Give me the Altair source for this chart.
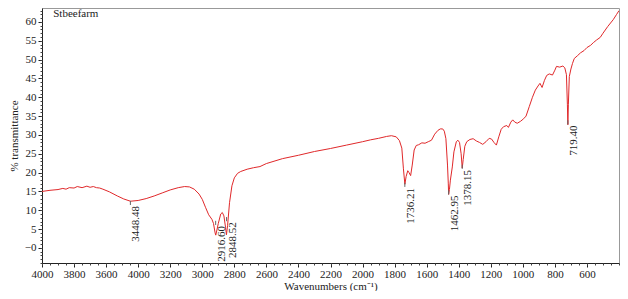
import altair as alt
import pandas as pd

wavenumber = [4000, 3950, 3900, 3870, 3850, 3830, 3800, 3780, 3750, 3720, 3700, 3680, 3660, 3640, 3620,
              3580, 3530, 3490, 3448, 3400, 3350, 3300, 3250, 3200, 3150, 3110, 3080, 3050,
              3020, 3000, 2980, 2960, 2940, 2930, 2920, 2916, 2910, 2900, 2885, 2875, 2865,
              2855, 2849, 2842, 2830, 2815, 2800, 2780, 2760, 2720, 2680, 2640, 2600, 2500,
              2400, 2300, 2200, 2100, 2000, 1950, 1900, 1850, 1820, 1790, 1770, 1755, 1745,
              1736, 1728, 1718, 1710, 1700, 1690, 1678, 1665, 1650, 1630, 1610, 1590, 1570,
              1550, 1530, 1515, 1500, 1490, 1480, 1470, 1465, 1463, 1458, 1452, 1440, 1430,
              1415, 1405, 1395, 1385, 1378, 1372, 1362, 1350, 1330, 1310, 1290, 1270, 1250,
              1230, 1210, 1195, 1180, 1165, 1150, 1135, 1120, 1100, 1090, 1075, 1063, 1050,
              1035, 1015, 995, 980, 960, 940, 922, 905, 893, 880, 865, 851, 835, 815, 800,
              790, 770, 750, 738, 728, 722, 719, 716, 710, 700, 690, 679, 660, 640, 618, 600,
              577, 560, 540, 517, 500, 470, 436, 415, 400]
transmittance = [15.0, 15.3, 15.5, 15.8, 15.6, 16.0, 15.9, 16.3, 16.0, 16.4, 16.1, 16.3, 16.0, 15.9, 15.6,
                 14.9, 13.8, 13.0, 12.4, 12.6, 13.1, 13.8, 14.6, 15.4, 16.0, 16.3, 16.2, 15.6,
                 14.3, 12.9, 10.8, 8.8, 7.6, 6.5, 4.0, 3.4, 4.5, 6.5, 9.0, 9.4, 8.5,
                 5.5, 3.5, 6.0, 12.0, 16.5, 18.6, 19.8, 20.3, 20.9, 21.3, 21.6, 22.4, 23.7,
                 24.6, 25.6, 26.4, 27.3, 28.2, 28.7, 29.1, 29.6, 29.8, 29.5, 28.5, 26.5, 21.0,
                 16.9, 19.0, 20.5, 20.0, 19.2, 22.0, 26.0, 27.2, 27.4, 27.9, 27.8, 28.2, 28.6,
                 30.2, 31.2, 31.6, 31.6, 31.0, 29.0, 22.0, 17.0, 14.2, 15.5, 18.0, 21.5, 25.5,
                 28.2, 28.6, 28.0, 25.0, 21.2, 23.5, 27.0, 28.2, 28.8, 29.0, 28.4, 28.0, 27.5,
                 28.2, 29.1, 28.9, 28.0, 27.3, 29.5, 31.5, 32.2, 32.5, 32.0, 33.4, 34.0, 33.4,
                 33.1, 33.6, 34.3, 35.0, 37.5, 40.0, 41.9, 43.0, 43.7, 42.6, 44.5, 45.8, 46.2, 45.9, 47.2,
                 48.2, 48.0, 48.3, 47.8, 46.0, 38.0, 32.7, 38.0, 45.5, 47.5, 49.0, 50.3, 51.0, 51.8, 52.4, 53.2,
                 53.8, 54.5, 55.2, 55.9, 57.0, 58.8, 60.6, 62.0, 63.0]

peak_x = [3448.48, 2916.60, 2848.52, 1736.21, 1462.95, 1378.15, 719.40]
peak_label = ["3448.48", "2916.60", "2848.52", "1736.21", "1462.95", "1378.15", "719.40"]
label_top = [11.1, 5.8, 6.8, 15.9, 13.9, 20.7, 32.5]

x_major = list(range(600, 4001, 200))
x_minor = list(range(400, 4001, 50))
y_major = list(range(0, 61, 5))
y_minor = list(range(-4, 64, 1))

spec = pd.DataFrame({"x": wavenumber, "y": transmittance})
peaks = pd.DataFrame({"x": peak_x, "y": label_top, "label": peak_label})
peaks["t1"] = peaks["y"] + 1.4
peaks["t2"] = peaks["y"] + 0.3
title_df = pd.DataFrame({"x": [3930], "y": [62.0], "t": ["Stbeefarm"]})

FONT = "Liberation Serif"
xs = alt.Scale(domain=[4000, 400], nice=False, zero=False)
ys = alt.Scale(domain=[-4, 63.7], nice=False, zero=False)

x_axis = alt.Axis(values=x_major, labelExpr="datum.value == 3400 ? '4000' : datum.label",
                  format="d", title="Wavenumbers (cm⁻¹)", tickSize=4, grid=False,
                  labelOverlap=False, labelFlush=False,
                  domainColor="#222", tickColor="#222", labelColor="#222", titleColor="#222",
                  labelFont=FONT, titleFont=FONT, labelFontSize=11, titleFontSize=11,
                  titleFontWeight="normal", labelPadding=1, titlePadding=1, orient="bottom")
y_axis = alt.Axis(values=y_major, labelExpr="datum.value == 0 ? '−0' : datum.label",
                  title="% transmittance", tickSize=4, grid=False,
                  labelOverlap=False, labelFlush=False,
                  domainColor="#222", tickColor="#222", labelColor="#222", titleColor="#222",
                  labelFont=FONT, titleFont=FONT, labelFontSize=11, titleFontSize=11,
                  titleFontWeight="normal", labelPadding=2, titlePadding=5, orient="left")

line = alt.Chart(spec).mark_line(color="#e0282a", strokeWidth=1, clip=True).encode(
    x=alt.X("x:Q", scale=xs, axis=x_axis),
    y=alt.Y("y:Q", scale=ys, axis=y_axis),
)

ticks = alt.Chart(peaks).mark_rule(color="#666", strokeWidth=1).encode(
    x=alt.X("x:Q", axis=x_axis), y=alt.Y("t1:Q", axis=y_axis), y2="t2:Q"
)

labels = alt.Chart(peaks).mark_text(angle=270, align="right", baseline="middle", dy=6,
                                    font=FONT, fontSize=11, color="#222").encode(
    x=alt.X("x:Q", axis=x_axis), y=alt.Y("y:Q", axis=y_axis), text="label:N"
)

title = alt.Chart(title_df).mark_text(align="left", baseline="middle", font=FONT, fontSize=11,
                                      color="#222").encode(
    x=alt.X("x:Q", axis=x_axis), y=alt.Y("y:Q", axis=y_axis), text="t:N")

main = alt.layer(line, ticks, labels, title)

minor = alt.Chart(spec).mark_line(opacity=0).encode(
    x=alt.X("x:Q", scale=xs, axis=alt.Axis(values=x_minor, labels=False, title=None, domain=False,
                                          tickSize=2, tickColor="#444", grid=False, orient="bottom")),
    y=alt.Y("y:Q", scale=ys, axis=alt.Axis(values=y_minor, labels=False, title=None, domain=False,
                                          tickSize=2, tickColor="#444", grid=False, orient="left")),
)

chart = alt.layer(main, minor).resolve_axis(
    x="independent", y="independent"
).properties(
    width=612, height=283, padding=0,
    autosize=alt.AutoSizeParams(type="fit", contains="padding"),
).configure_view(
    stroke="#999", strokeWidth=1
).configure_axis(labelFont=FONT, titleFont=FONT, labelOverlap=False)

chart.save("out.html", embed_options={"renderer": "svg", "actions": False})
